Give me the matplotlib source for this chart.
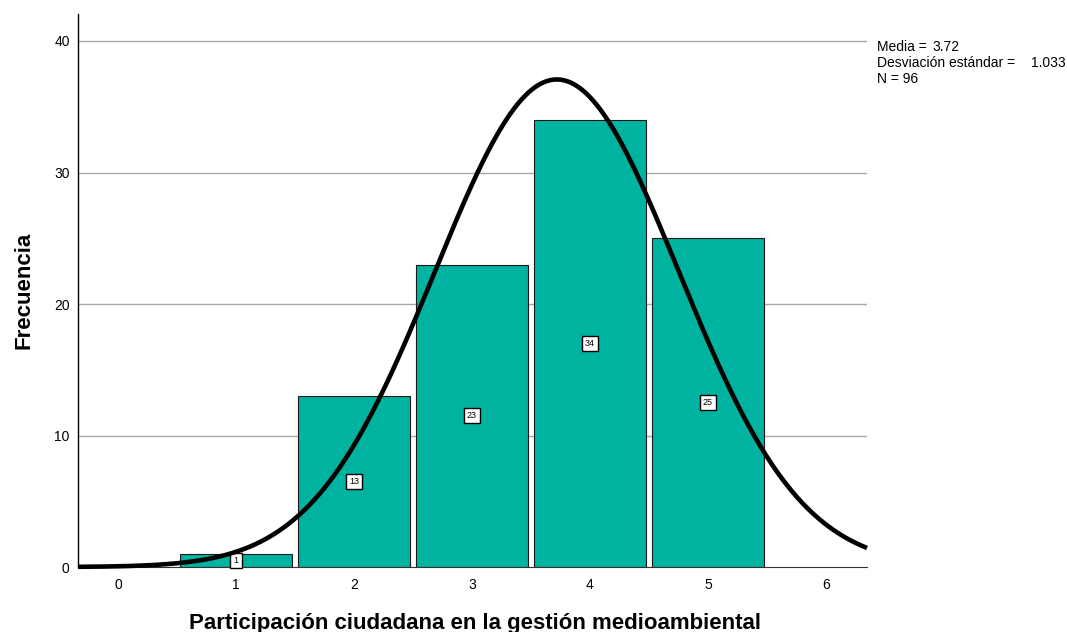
import numpy as np
import matplotlib
matplotlib.use("Agg")
import matplotlib.pyplot as plt

plt.rcParams['font.family'] = ['Liberation Sans', 'DejaVu Sans']

categories = [1, 2, 3, 4, 5]
frequencies = [1, 13, 23, 34, 25]
x_ticks = [0, 1, 2, 3, 4, 5, 6]
y_ticks = [0, 10, 20, 30, 40]
mean = 3.72
std = 1.033
n = 96

fig = plt.figure(figsize=(10.67, 6.32), dpi=100)
ax = fig.add_axes([0.0731, 0.1028, 0.7395, 0.875])

ax.set_xlim(-0.34, 6.35)
ax.set_ylim(0, 42.05)

for yt in y_ticks[1:]:
    ax.axhline(yt, color='#a8a8a8', lw=1, zorder=0)

ax.bar(categories, frequencies, width=0.95, color='#00b2a0', edgecolor='#1a1a1a', lw=0.8, zorder=2)

for c, f in zip(categories, frequencies):
    ax.text(c, f / 2, str(f), ha='center', va='center', fontsize=6.5, zorder=4,
            bbox=dict(boxstyle='square,pad=0.35', fc='white', ec='black', lw=1))

xs = np.linspace(-0.34, 6.35, 600)
ys = n * 1.0 * np.exp(-0.5 * ((xs - mean) / std) ** 2) / (std * np.sqrt(2 * np.pi))
ax.plot(xs, ys, color='black', lw=3.3, zorder=5, clip_on=False, solid_capstyle='butt')

ax.set_xticks(x_ticks)
ax.set_yticks(y_ticks)
ax.tick_params(axis='both', length=0, labelsize=10, colors='black', pad=8)
ax.tick_params(axis='y', pad=6)

for s in ['top', 'right']:
    ax.spines[s].set_visible(False)
ax.spines['left'].set_color('black')
ax.spines['bottom'].set_color('#333333')
ax.spines['left'].set_linewidth(1)

fig.text(0.5 * (190 + 760) / 1067, 1 - 623 / 632, 'Participación ciudadana en la gestión medioambiental',
         fontsize=16, fontweight='bold', ha='center', va='center')
ax.set_ylabel('Frecuencia', fontsize=16, fontweight='bold', labelpad=14)

fig.text(0.8219, 1 - 47 / 632, 'Media = ', fontsize=10, va='center')
fig.text(0.8735, 1 - 47 / 632, '3.72', fontsize=10, va='center')
fig.text(0.8219, 1 - 63 / 632, 'Desviación estándar = ', fontsize=10, va='center')
fig.text(0.9665, 1 - 63 / 632, '1.033', fontsize=10, va='center')
fig.text(0.8219, 1 - 79 / 632, 'N = 96', fontsize=10, va='center')

fig.savefig('out.png', dpi=100)
